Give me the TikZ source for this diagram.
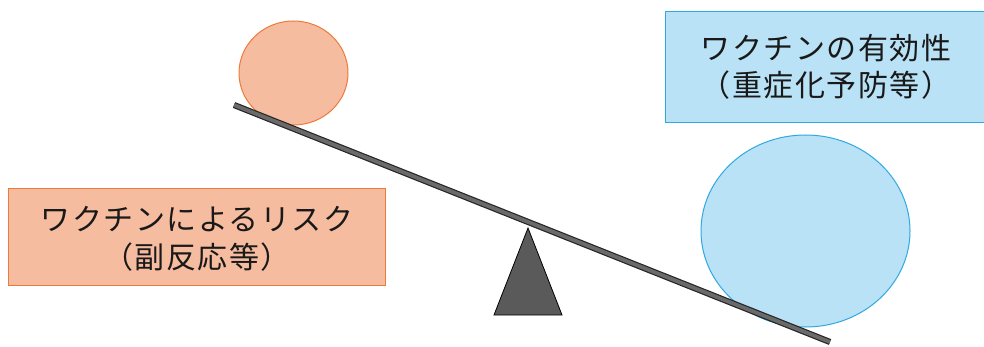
\documentclass[tikz,border=0pt]{standalone}
\usepackage{fontspec}
\newfontfamily\jp[LetterSpace=5]{Noto Sans CJK JP}
\usetikzlibrary{shapes.geometric}
\definecolor{riskfill}{HTML}{F6BCA0}
\definecolor{riskline}{HTML}{EE7A3A}
\definecolor{effill}{HTML}{B9E2F6}
\definecolor{efline}{HTML}{2FA9E0}
\definecolor{beamgray}{HTML}{6A6A6A}
\definecolor{fulcrum}{HTML}{5A5A5A}
\tikzset{
  riskbox/.style={draw=riskline, line width=1pt, fill=riskfill, inner sep=0pt},
  effbox/.style={draw=efline, line width=1pt, fill=effill, inner sep=0pt},
  ball/.style={ellipse, inner sep=0pt, line width=1pt},
  label/.style={font=\jp\fontsize{30}{37.5}\selectfont, align=center, text=black!90},
}
\begin{document}
\begin{tikzpicture}[x=1pt,y=-1pt]
\useasboundingbox (0,0) rectangle (984,347);
% boxes
\node[riskbox, minimum width=377pt, minimum height=96pt] (riskrect) at (196.5,237) {};
\node[label] (risktext) at (197,239) {ワクチンによるリスク\\（副反応等）};
\node[effbox, minimum width=321pt, minimum height=111pt] (effrect) at (825.5,67.5) {};
\node[label] (efftext) at (826,67) {ワクチンの有効性\\（重症化予防等）};
% balls
\node[ball, draw=riskline, fill=riskfill, minimum width=109pt, minimum height=104pt] (smallball) at (293.5,73) {};
\node[ball, draw=efline, fill=effill, minimum width=209pt, minimum height=192pt] (bigball) at (805.5,231) {};
% fulcrum
\coordinate (apex) at (528,228);
\coordinate (baseL) at (494,315);
\coordinate (baseR) at (562,315);
\draw[fill=fulcrum, line width=0.8pt] (apex) -- (baseR) -- (baseL) -- cycle;
% beam
\coordinate (beamL) at (234,105);
\coordinate (beamR) at (830,342);
\draw[line width=1.2pt, draw=black!85, double=beamgray, double distance=3.8pt] (beamL) -- (beamR);
\end{tikzpicture}
\end{document}
